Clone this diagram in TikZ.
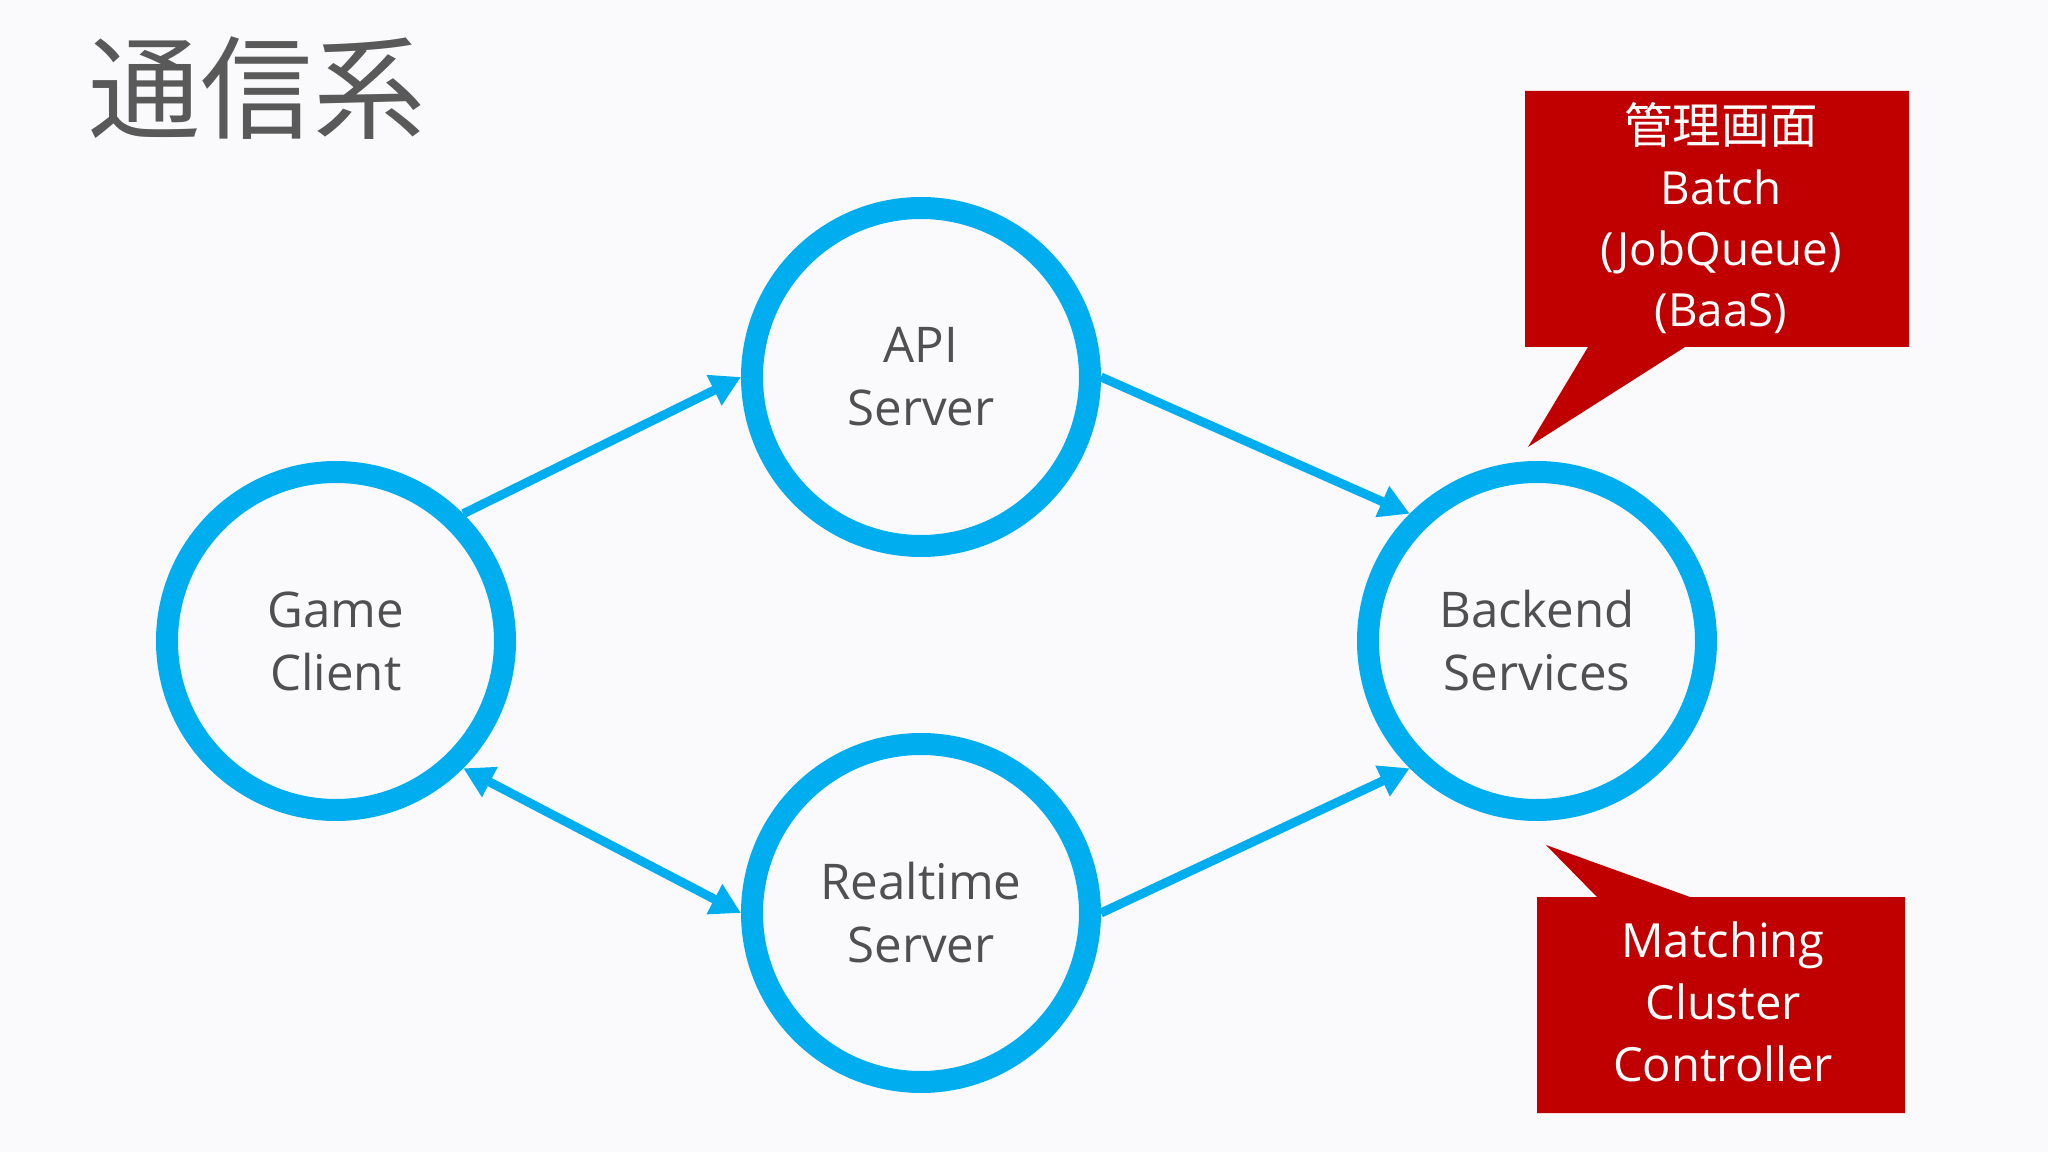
\documentclass[tikz,border=0pt]{standalone}
\usepackage{fontspec}
\setmainfont{Open Sans}
\newfontfamily\cjk{Noto Sans CJK JP}
\usepackage{tikz}
\usetikzlibrary{positioning, arrows.meta}

\definecolor{hubblue}{RGB}{0,174,239}
\definecolor{noteRed}{RGB}{192,0,0}
\definecolor{inkgray}{RGB}{80,80,82}
\definecolor{titlegray}{RGB}{89,89,89}
\definecolor{paper}{RGB}{250,250,252}

\tikzset{
    hub/.style={circle, draw=hubblue, line width=0.22cm, minimum size=3.38cm,
        align=center, text=inkgray, font=\fontsize{14}{17.9}\selectfont},
    link/.style={color=hubblue, line width=0.09cm},
    note/.style={align=center, text=white},
}

\begin{document}
\begin{tikzpicture}[>={Triangle[length=0.30cm, width=0.32cm]}]
        \fill[paper] (0,0) rectangle (20.48,-11.52);
        \useasboundingbox (0,0) rectangle (20.48,-11.52);

        \node[text=titlegray, font=\cjk\fontsize{31.9}{36}\selectfont] (title) at (2.57,-0.88) {通信系};

        \node[hub] (client) at (3.36,-6.41) {Game\\Client};
        \node[hub] (api) at (9.21,-3.77) {API\\Server};
        \node[hub, below of=api, node distance=5.36cm] (realtime) {Realtime\\Server};
        \node[hub, right of=client, node distance=12.01cm] (backend) {Backend\\Services};

        \draw[link]
        (client.45) edge[->] (api.west)
        (api.east) edge[->] (backend.135)
        (client.-45) edge[<->] (realtime.west)
        (realtime.east) edge[->] (backend.-135)
        ;

        % callouts
        \fill[noteRed] (15.25,-0.91) -- (19.09,-0.91) -- (19.09,-3.47) -- (16.85,-3.47)
            -- (15.28,-4.47) -- (15.88,-3.47) -- (15.25,-3.47) -- cycle;
        \node[note, font=\fontsize{13}{17.4}\selectfont] (admin) at (17.21,-2.18)
            {{\cjk\fontsize{13.8}{17.4}\selectfont 管理画面}\\Batch\\(JobQueue)\\(BaaS)};

        \fill[noteRed] (15.37,-8.97) -- (15.97,-8.97) -- (15.46,-8.45) -- (16.90,-8.97)
            -- (19.05,-8.97) -- (19.05,-11.13) -- (15.37,-11.13) -- cycle;
        \node[note, font=\fontsize{13.4}{17.6}\selectfont] (matching) at (17.23,-10.02)
            {Matching\\Cluster\\Controller};
    \end{tikzpicture}
\end{document}
